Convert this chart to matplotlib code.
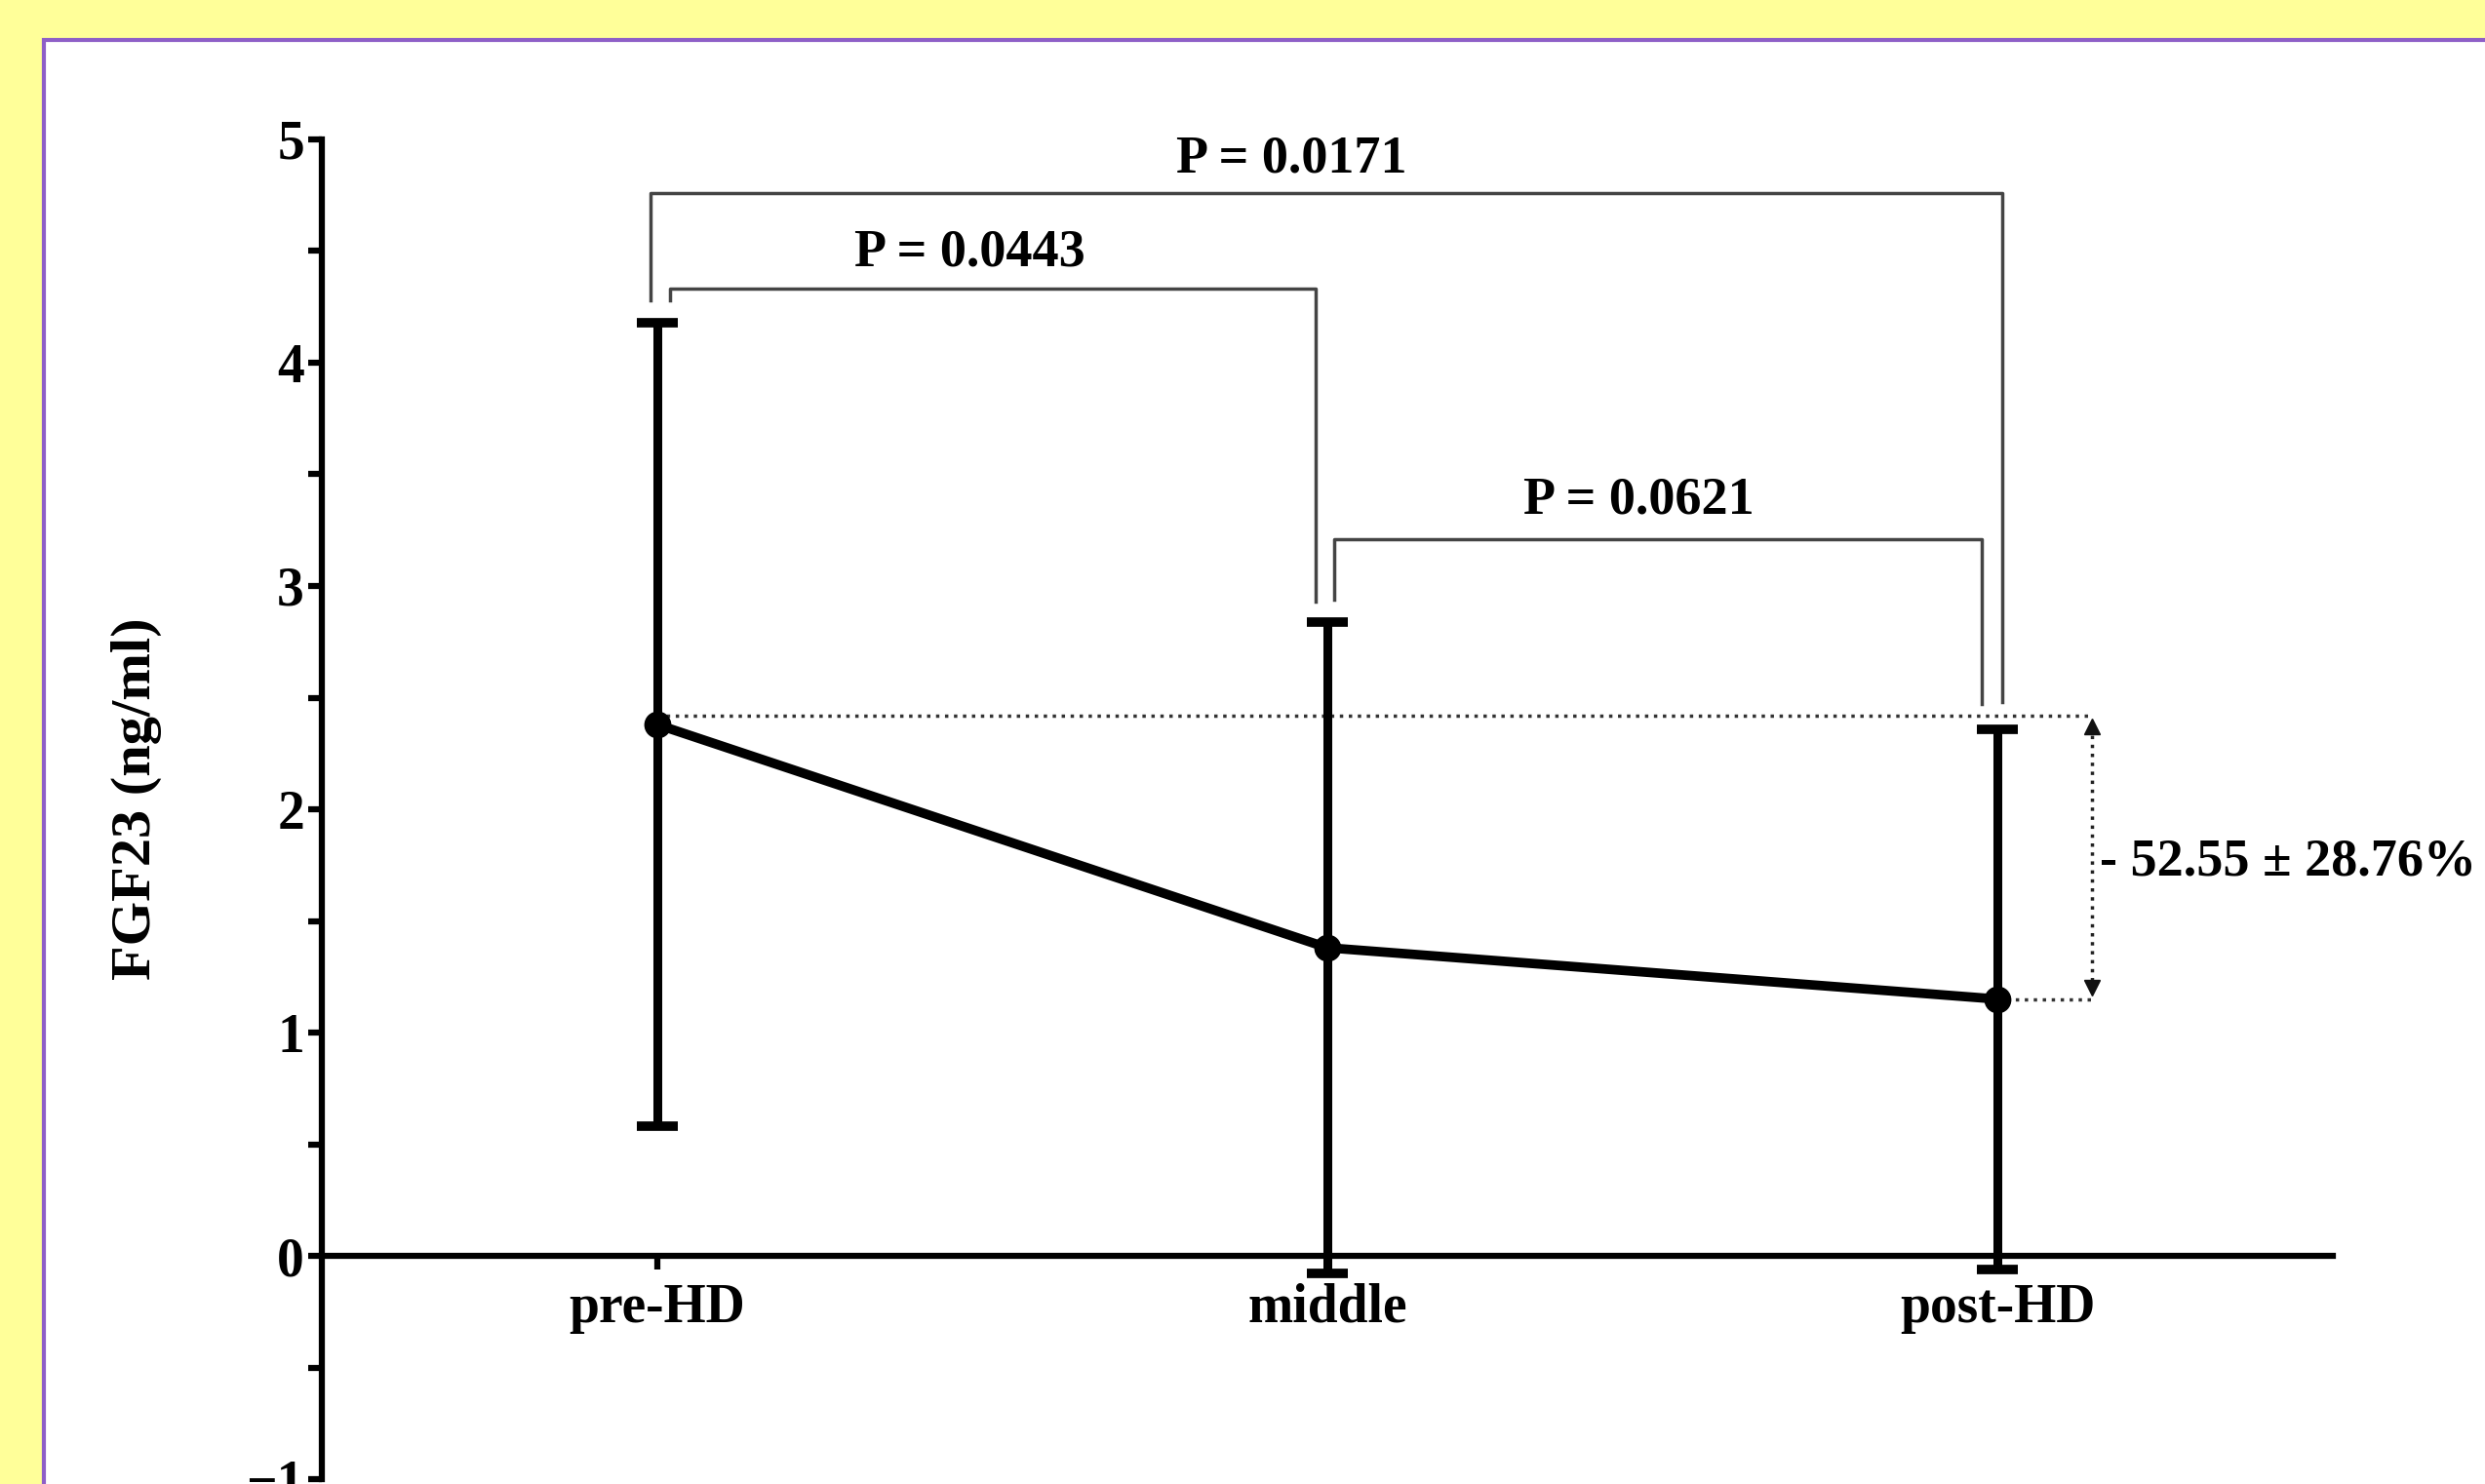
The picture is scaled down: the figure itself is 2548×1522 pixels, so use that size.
import matplotlib
matplotlib.use('Agg')
import matplotlib.pyplot as plt
from matplotlib.patches import Rectangle
from matplotlib.ticker import MultipleLocator

# data
groups = ['pre-HD', 'middle', 'post-HD']
means = [2.38, 1.38, 1.15]
sds = [1.80, 1.46, 1.21]
p_labels = ['P = 0.0171', 'P = 0.0443', 'P = 0.0621']
change_label = '- 52.55 \u00b1 28.76%'
ref_level = 2.42

plt.rcParams['font.family'] = ['Liberation Serif', 'DejaVu Serif']
plt.rcParams['font.weight'] = 'bold'

fig = plt.figure(figsize=(25.48, 15.22), dpi=100)
fig.patch.set_facecolor('#ffff99')

# white panel with purple frame
panel = Rectangle((45 / 2548, -0.1), 1.2, 1 - 41 / 1522 + 0.1, transform=fig.transFigure,
                  facecolor='white', edgecolor='#8e5fc7', linewidth=3, zorder=-10)
fig.patches.append(panel)

ax = fig.add_axes([0.1295, 0.0032, 0.8093, 0.9029])
ax.set_facecolor('none')
x = list(range(len(groups)))

ax.errorbar(x, means, yerr=sds, color='black', linewidth=7, elinewidth=6.5,
            capsize=15, capthick=7, marker='o', markersize=19, zorder=5)

ax.set_xlim(-0.5, 2.5)
ax.set_ylim(-1, 5)
ax.spines['top'].set_visible(False)
ax.spines['right'].set_visible(False)
ax.spines['bottom'].set_position(('data', 0))
ax.spines['left'].set_linewidth(4.5)
ax.spines['bottom'].set_linewidth(4.5)

ax.set_xticks(x)
ax.set_xticklabels(groups)
ax.yaxis.set_major_locator(MultipleLocator(1))
ax.yaxis.set_minor_locator(MultipleLocator(0.5))
ax.tick_params(axis='both', which='major', length=10, width=4.5, labelsize=40, pad=3)
ax.tick_params(axis='y', which='minor', length=10, width=4.5)
ax.tick_params(axis='x', pad=10)
for lab in ax.get_xticklabels() + ax.get_yticklabels():
    lab.set_fontweight('bold')

fig.text(0.055, 0.462, 'FGF23 (ng/ml)', rotation=90, fontsize=42, fontweight='bold',
         ha='center', va='center')

# significance brackets
bc = '#444444'
blw = 2.5
fs = 39
# pre-HD vs post-HD
ax.plot([-0.01, -0.01, 2.007, 2.007], [4.28, 4.76, 4.76, 2.48], color=bc, lw=blw)
ax.text(0.947, 4.91, p_labels[0], ha='center', va='center', fontsize=fs, fontweight='bold')
# pre-HD vs middle
ax.plot([0.019, 0.019, 0.982, 0.982], [4.28, 4.33, 4.33, 2.93], color=bc, lw=blw)
ax.text(0.466, 4.49, p_labels[1], ha='center', va='center', fontsize=fs, fontweight='bold')
# middle vs post-HD
ax.plot([1.01, 1.01, 1.976, 1.976], [2.94, 3.21, 3.21, 2.47], color=bc, lw=blw)
ax.text(1.465, 3.38, p_labels[2], ha='center', va='center', fontsize=fs, fontweight='bold')

# percent change marker
ax.plot([0, 2.14], [ref_level, ref_level], color='#333333', lw=2.5, ls=':', zorder=3)
ax.plot([2, 2.14], [means[2], means[2]], color='#333333', lw=2.5, ls=':', zorder=3)
ax.plot([2.14, 2.14], [means[2] + 0.08, ref_level - 0.08], color='#222222', lw=2.5, ls=':')
ax.plot([2.14], [ref_level - 0.05], marker='^', markersize=11, color='#111111')
ax.plot([2.14], [means[2] + 0.05], marker='v', markersize=11, color='#111111')
ax.text(2.152, 1.76, change_label, ha='left', va='center', fontsize=fs, fontweight='bold')

fig.savefig('out.png', dpi=100, facecolor=fig.get_facecolor())
